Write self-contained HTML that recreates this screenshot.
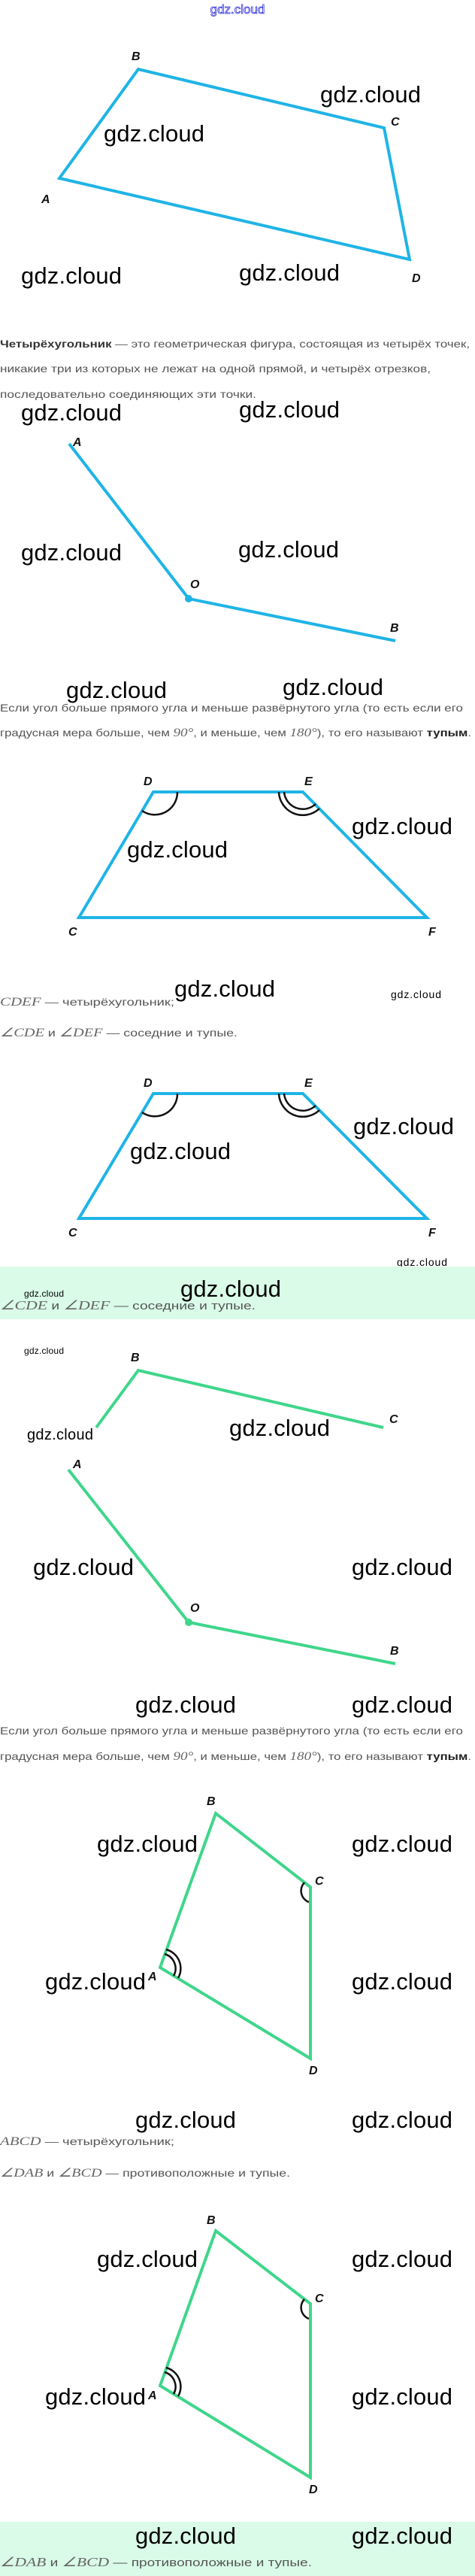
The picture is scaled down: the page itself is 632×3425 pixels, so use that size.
<!DOCTYPE html>
<html><head><meta charset="utf-8"><style>
html,body{margin:0;padding:0;background:#fff;}
svg{display:block}
.w{font-family:"Liberation Sans",sans-serif;font-size:31px;fill:#000;}
.ws{font-family:"Liberation Sans",sans-serif;font-size:14px;fill:#000;}
.t{font-family:"Liberation Sans",sans-serif;font-size:14px;fill:#555;}
.m{font-family:"Liberation Serif",serif;font-style:italic;font-size:16px;fill:#666;}
.l{font-family:"Liberation Sans",sans-serif;font-style:italic;font-weight:bold;font-size:16px;fill:#111;}
.b{stroke:#1fb4e6;stroke-width:4;fill:none;stroke-linejoin:miter}
.g{stroke:#3fd68b;stroke-width:4;fill:none}
.a{stroke:#111;stroke-width:2.5;fill:none}
</style></head><body>
<svg width="632" height="3425" viewBox="0 0 632 3425" xmlns="http://www.w3.org/2000/svg">
<text x="316" y="18" text-anchor="middle" font-family="Liberation Sans,sans-serif" font-size="17" fill="#fff" stroke="#3030e0" stroke-width="0.8">gdz.cloud</text>

<polygon class="b" points="79,237 184,92 511,170 545,345"/>
<text class="l" x="175" y="80">B</text><text class="l" x="520" y="167">C</text>
<text class="l" x="55" y="270">A</text><text class="l" x="548" y="375">D</text>
<text class="w" x="138" y="188" textLength="134">gdz.cloud</text>
<text class="w" x="426" y="136" textLength="134">gdz.cloud</text>
<text class="w" x="28" y="377" textLength="134">gdz.cloud</text>
<text class="w" x="318" y="373" textLength="134">gdz.cloud</text>

<text class="t" x="0" y="462" textLength="625" lengthAdjust="spacingAndGlyphs"><tspan font-weight="bold" fill="#333">Четырёхугольник</tspan> — это геометрическая фигура, состоящая из четырёх точек,</text>
<text class="t" x="0" y="495" textLength="573" lengthAdjust="spacingAndGlyphs">никакие три из которых не лежат на одной прямой, и четырёх отрезков,</text>
<text class="t" x="0" y="529" textLength="341" lengthAdjust="spacingAndGlyphs">последовательно соединяющих эти точки.</text>
<text class="w" x="28" y="559" textLength="134">gdz.cloud</text>
<text class="w" x="318" y="555" textLength="134">gdz.cloud</text>

<polyline class="b" points="92,590 251,796 526,852"/>
<circle cx="251" cy="796" r="5" fill="#1fb4e6"/>
<text class="l" x="97" y="593">A</text><text class="l" x="253" y="782">O</text><text class="l" x="519" y="840">B</text>
<text class="w" x="28" y="745" textLength="134">gdz.cloud</text>
<text class="w" x="317" y="741" textLength="134">gdz.cloud</text>
<text class="w" x="88" y="928" textLength="134">gdz.cloud</text>
<text class="w" x="376" y="924" textLength="134">gdz.cloud</text>
<text class="t" x="0" y="946" textLength="616" lengthAdjust="spacingAndGlyphs">Если угол больше прямого угла и меньше развёрнутого угла (то есть если его</text>
<text class="t" x="0" y="979" textLength="627" lengthAdjust="spacingAndGlyphs">градусная мера больше, чем <tspan class="m" font-style="normal">90°</tspan>, и меньше, чем <tspan class="m" font-style="normal">180°</tspan>), то его называют <tspan font-weight="bold" fill="#222">тупым</tspan>.</text>

<polygon class="b" points="105,1220 204,1053 403,1053 568,1220"/>
<path class="a" d="M189,1078 A30,30 0 0 0 236,1053"/>
<path class="a" d="M371,1053 A32,32 0 0 0 425,1075"/>
<path class="a" d="M378,1053 A25,25 0 0 0 420,1069"/>
<text class="l" x="191" y="1044">D</text><text class="l" x="405" y="1044">E</text>
<text class="l" x="91" y="1244">C</text><text class="l" x="570" y="1244">F</text>
<text class="w" x="468" y="1109" textLength="134">gdz.cloud</text>
<text class="w" x="169" y="1140" textLength="134">gdz.cloud</text>

<text class="w" x="232" y="1325" textLength="134">gdz.cloud</text>
<text class="ws" x="520" y="1327" textLength="67">gdz.cloud</text>
<text class="t" x="0" y="1337" textLength="232" lengthAdjust="spacingAndGlyphs"><tspan class="m">CDEF</tspan> — четырёхугольник;</text>
<text class="t" x="0" y="1378" textLength="316" lengthAdjust="spacingAndGlyphs"><tspan class="m">∠CDE</tspan> и <tspan class="m">∠DEF</tspan> — соседние и тупые.</text>

<polygon class="b" points="105,1620 204,1454 403,1454 568,1620"/>
<path class="a" d="M189,1479 A30,30 0 0 0 236,1454"/>
<path class="a" d="M371,1454 A32,32 0 0 0 425,1476"/>
<path class="a" d="M378,1454 A25,25 0 0 0 420,1470"/>
<text class="l" x="191" y="1445">D</text><text class="l" x="405" y="1445">E</text>
<text class="l" x="91" y="1644">C</text><text class="l" x="570" y="1644">F</text>
<text class="w" x="470" y="1508" textLength="134">gdz.cloud</text>
<text class="w" x="173" y="1541" textLength="134">gdz.cloud</text>
<text class="ws" x="528" y="1683" textLength="67">gdz.cloud</text>

<rect x="0" y="1684" width="632" height="70" fill="#d9fbe8"/>
<text class="ws" x="32" y="1724" style="font-size:12px" textLength="53">gdz.cloud</text>
<text class="w" x="240" y="1724" textLength="134">gdz.cloud</text>
<text class="t" x="0" y="1741" style="font-size:15px" textLength="340" lengthAdjust="spacingAndGlyphs"><tspan class="m" style="font-size:17px">∠CDE</tspan> и <tspan class="m" style="font-size:17px">∠DEF</tspan> — соседние и тупые.</text>
<text class="ws" x="32" y="1800" style="font-size:12px" textLength="53">gdz.cloud</text>

<polyline class="g" points="128,1898 184,1822 510,1898"/>
<text class="l" x="174" y="1810">B</text><text class="l" x="518" y="1892">C</text>
<text class="w" x="36" y="1914" style="font-size:20px" textLength="88">gdz.cloud</text>
<text class="w" x="305" y="1909" textLength="134">gdz.cloud</text>

<polyline class="g" points="91,1954 251,2157 526,2212"/>
<circle cx="251" cy="2157" r="5" fill="#3fd68b"/>
<text class="l" x="97" y="1952">A</text><text class="l" x="253" y="2143">O</text><text class="l" x="519" y="2200">B</text>
<text class="w" x="44" y="2094" textLength="134">gdz.cloud</text>
<text class="w" x="468" y="2094" textLength="134">gdz.cloud</text>
<text class="w" x="180" y="2277" textLength="134">gdz.cloud</text>
<text class="w" x="468" y="2277" textLength="134">gdz.cloud</text>
<text class="t" x="0" y="2306" textLength="616" lengthAdjust="spacingAndGlyphs">Если угол больше прямого угла и меньше развёрнутого угла (то есть если его</text>
<text class="t" x="0" y="2340" textLength="627" lengthAdjust="spacingAndGlyphs">градусная мера больше, чем <tspan class="m" font-style="normal">90°</tspan>, и меньше, чем <tspan class="m" font-style="normal">180°</tspan>), то его называют <tspan font-weight="bold" fill="#222">тупым</tspan>.</text>

<polygon class="g" points="213,2616 287,2411 413,2509 413,2737"/>
<path class="a" d="M405,2503 A16,16 0 0 0 411,2529"/>
<path class="a" d="M219,2598 A20,20 0 0 1 231,2627"/>
<path class="a" d="M221,2592 A26,26 0 0 1 237,2630"/>
<text class="l" x="275" y="2400">B</text><text class="l" x="419" y="2506">C</text>
<text class="l" x="197" y="2633">A</text><text class="l" x="411" y="2758">D</text>
<text class="w" x="129" y="2462" textLength="134">gdz.cloud</text>
<text class="w" x="468" y="2462" textLength="134">gdz.cloud</text>
<text class="w" x="60" y="2645" textLength="134">gdz.cloud</text>
<text class="w" x="468" y="2645" textLength="134">gdz.cloud</text>

<text class="w" x="180" y="2829" textLength="134">gdz.cloud</text>
<text class="w" x="468" y="2829" textLength="134">gdz.cloud</text>
<text class="t" x="0" y="2852" textLength="232" lengthAdjust="spacingAndGlyphs"><tspan class="m">ABCD</tspan> — четырёхугольник;</text>
<text class="t" x="0" y="2894" textLength="386" lengthAdjust="spacingAndGlyphs"><tspan class="m">∠DAB</tspan> и <tspan class="m">∠BCD</tspan> — противоположные и тупые.</text>

<polygon class="g" points="213,3172 287,2966 413,3063 413,3294"/>
<path class="a" d="M405,3057 A16,16 0 0 0 411,3083"/>
<path class="a" d="M219,3154 A20,20 0 0 1 231,3183"/>
<path class="a" d="M221,3148 A26,26 0 0 1 237,3186"/>
<text class="l" x="275" y="2957">B</text><text class="l" x="419" y="3061">C</text>
<text class="l" x="197" y="3190">A</text><text class="l" x="411" y="3315">D</text>
<text class="w" x="129" y="3014" textLength="134">gdz.cloud</text>
<text class="w" x="468" y="3014" textLength="134">gdz.cloud</text>
<text class="w" x="60" y="3197" textLength="134">gdz.cloud</text>
<text class="w" x="468" y="3197" textLength="134">gdz.cloud</text>

<rect x="0" y="3353" width="632" height="72" fill="#d9fbe8"/>
<text class="w" x="180" y="3382" textLength="134">gdz.cloud</text>
<text class="w" x="468" y="3382" textLength="134">gdz.cloud</text>
<text class="t" x="0" y="3412" style="font-size:15px" textLength="415" lengthAdjust="spacingAndGlyphs"><tspan class="m" style="font-size:17px">∠DAB</tspan> и <tspan class="m" style="font-size:17px">∠BCD</tspan> — противоположные и тупые.</text>
</svg>
</body></html>
